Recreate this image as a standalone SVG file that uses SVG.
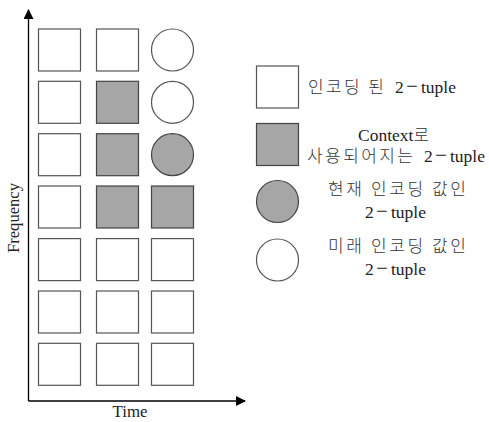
<svg xmlns="http://www.w3.org/2000/svg" width="489" height="422" viewBox="0 0 489 422">
<style>
.b{fill:#fff;stroke:#555;stroke-width:1.2}
.g{fill:#a6a6a6;stroke:#444;stroke-width:1.2}
.ax{stroke:#000;stroke-width:1.3;fill:none}
text{font-family:"Liberation Serif","Noto Sans CJK KR",serif;fill:#222}
.t{font-size:17.5px}
.m{font-size:21px}
.k{font-family:"Noto Sans CJK KR","Liberation Serif",sans-serif;font-size:17px;font-weight:300;fill:#333}
.a{font-size:16px}
</style>
<defs>
<marker id="ah" markerWidth="10" markerHeight="10" refX="9" refY="5" orient="auto" markerUnits="userSpaceOnUse">
<path d="M0,0 L10,5 L0,10 Z" fill="#000"/>
</marker>
</defs>
<g id="connectors">
<line class="ax" x1="28.5" y1="401" x2="28.5" y2="10" marker-end="url(#ah)"/>
<line class="ax" x1="28.5" y1="401" x2="245" y2="401" marker-end="url(#ah)"/>
</g>
<g id="axis-labels">
<text class="a" x="130" y="416.5" text-anchor="middle" textLength="35" lengthAdjust="spacingAndGlyphs">Time</text>
<text class="a" transform="translate(19,218) rotate(-90)" text-anchor="middle" textLength="70" lengthAdjust="spacingAndGlyphs">Frequency</text>
</g>
<g id="grid">
<g id="r1"><rect class="b" x="38.5" y="29" width="42" height="42"/><rect class="b" x="96.5" y="29" width="42" height="42"/><circle class="b" cx="172.5" cy="50" r="21"/></g>
<g id="r2"><rect class="b" x="38.5" y="81.3" width="42" height="42"/><rect class="g" x="96.5" y="81.3" width="42" height="42"/><circle class="b" cx="172.5" cy="102.3" r="21"/></g>
<g id="r3"><rect class="b" x="38.5" y="133.7" width="42" height="42"/><rect class="g" x="96.5" y="133.7" width="42" height="42"/><circle class="g" cx="172.5" cy="154.7" r="21"/></g>
<g id="r4"><rect class="b" x="38.5" y="186" width="42" height="42"/><rect class="g" x="96.5" y="186" width="42" height="42"/><rect class="g" x="151.5" y="186" width="42" height="42"/></g>
<g id="r5"><rect class="b" x="38.5" y="238.6" width="42" height="42"/><rect class="b" x="96.5" y="238.6" width="42" height="42"/><rect class="b" x="151.5" y="238.6" width="42" height="42"/></g>
<g id="r6"><rect class="b" x="38.5" y="291" width="42" height="42"/><rect class="b" x="96.5" y="291" width="42" height="42"/><rect class="b" x="151.5" y="291" width="42" height="42"/></g>
<g id="r7"><rect class="b" x="38.5" y="343.3" width="42" height="42"/><rect class="b" x="96.5" y="343.3" width="42" height="42"/><rect class="b" x="151.5" y="343.3" width="42" height="42"/></g>
</g>
<g id="legend-encoded">
<rect class="b" x="256.5" y="66" width="42" height="42"/>
<text class="k" x="308" y="93" textLength="76" lengthAdjust="spacing">인코딩 된</text>
<text class="t" y="93"><tspan x="395">2</tspan><tspan class="m" x="406">−</tspan><tspan x="421">tuple</tspan></text>
</g>
<g id="legend-context">
<rect class="g" x="256.5" y="123.5" width="42" height="42"/>
<text class="t" x="358" y="141">Context<tspan class="k">로</tspan></text>
<text class="k" x="307" y="162" textLength="106" lengthAdjust="spacing">사용되어지는</text>
<text class="t" y="162"><tspan x="424">2</tspan><tspan class="m" x="435">−</tspan><tspan x="450">tuple</tspan></text>
</g>
<g id="legend-current">
<circle class="g" cx="277.5" cy="201.5" r="21"/>
<text class="k" x="328" y="195" textLength="138" lengthAdjust="spacing">현재 인코딩 값인</text>
<text class="t" y="217.5"><tspan x="365">2</tspan><tspan class="m" x="376">−</tspan><tspan x="391">tuple</tspan></text>
</g>
<g id="legend-future">
<circle class="b" cx="277.5" cy="260" r="21"/>
<text class="k" x="328" y="252" textLength="138" lengthAdjust="spacing">미래 인코딩 값인</text>
<text class="t" y="274.5"><tspan x="365">2</tspan><tspan class="m" x="376">−</tspan><tspan x="391">tuple</tspan></text>
</g>
</svg>
